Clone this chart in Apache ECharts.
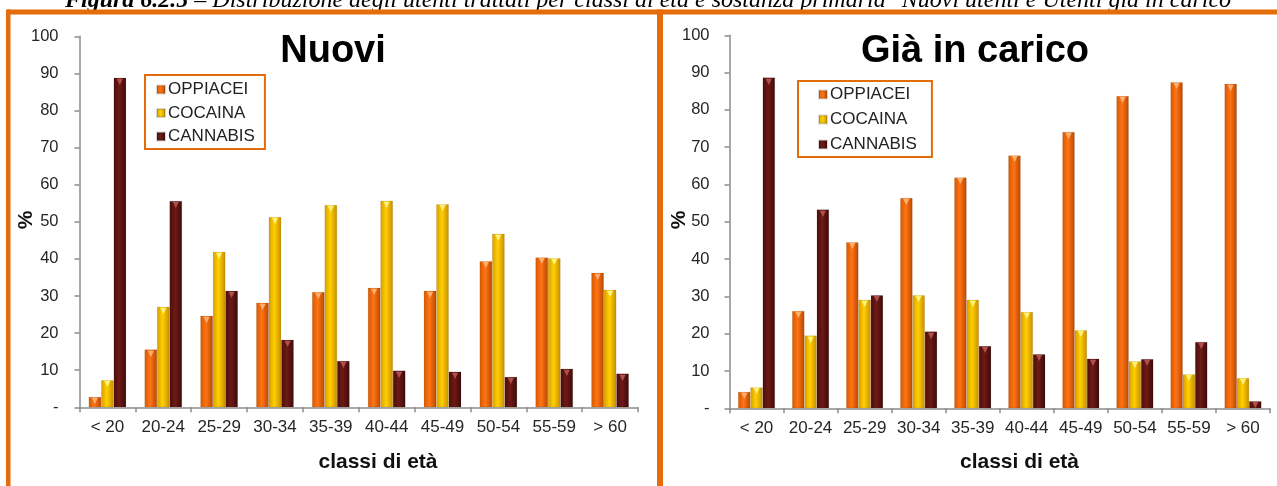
<!DOCTYPE html>
<html>
<head>
<meta charset="utf-8">
<script src="https://cdn.jsdelivr.net/npm/echarts@6/dist/echarts.min.js"></script>
<style>
html,body{margin:0;padding:0;background:#fff;}
#c{width:1277px;height:486px;}
</style>
</head>
<body>
<div id="c"></div>
<script>
const categories = ['< 20', '20-24', '25-29', '30-34', '35-39', '40-44', '45-49', '50-54', '55-59', '> 60'];
const seriesNames = ['OPPIACEI', 'COCAINA', 'CANNABIS'];
const nuoviOppiacei = [2.8, 15.6, 24.7, 28.2, 31.1, 32.2, 31.4, 39.4, 40.4, 36.3];
const nuoviCocaina = [7.3, 27.1, 41.9, 51.3, 54.5, 55.7, 54.7, 46.8, 40.2, 31.7];
const nuoviCannabis = [88.8, 55.6, 31.4, 18.2, 12.5, 9.9, 9.6, 8.2, 10.4, 9.1];
const caricoOppiacei = [4.4, 26.1, 44.5, 56.4, 61.9, 67.8, 74.1, 83.7, 87.4, 87.0];
const caricoCocaina = [5.6, 19.5, 29.1, 30.3, 29.1, 25.8, 20.9, 12.6, 9.1, 8.1];
const caricoCannabis = [88.7, 53.3, 30.3, 20.6, 16.7, 14.5, 13.3, 13.2, 17.8, 1.9];
const chartTitles = ['Nuovi', 'Già in carico'];
const xAxisTitle = 'classi di età';
const yAxisTitle = '%';
const figureLabel = 'Figura 6.2.5';
const figureCaption = ' – Distribuzione degli utenti trattati per classi di età e sostanza primaria "Nuovi utenti e Utenti già in carico';

const ORANGE = '#E46C0A';
const FONT = '"Liberation Sans", Arial, sans-serif';
const SERIF = '"Liberation Serif", "Times New Roman", serif';

function grad(c0, c1, c2) {
  return new echarts.graphic.LinearGradient(0, 0, 1, 0, [
    {offset: 0, color: c0}, {offset: 0.45, color: c1}, {offset: 1, color: c2}
  ]);
}
const barStyles = [
  {color: grad('#D65800', '#FF7414', '#B84800'), tri: '#FFB070'},
  {color: grad('#D89C00', '#FFD000', '#C88C00'), tri: '#FFF27A'},
  {color: grad('#4A0E0C', '#6E1A16', '#3C0A09'), tri: '#B0504C'}
];

const chart = echarts.init(document.getElementById('c'), null, {renderer: 'canvas'});

const grids = [
  {left: 79.5, top: 36.3, width: 558.5, height: 371},
  {left: 729.5, top: 35.3, width: 540.5, height: 373}
];

function xAxis(i) {
  return {
    type: 'category', gridIndex: i, data: categories,
    axisLine: {lineStyle: {color: '#8C8C8C', width: 1.5}},
    axisTick: {show: true, length: 5, lineStyle: {color: '#8C8C8C', width: 1.5}},
    axisLabel: {color: '#262626', fontSize: 17, fontFamily: FONT, margin: 12, interval: 0}
  };
}
function yAxis(i) {
  return {
    type: 'value', gridIndex: i, min: 0, max: 100, interval: 10,
    splitLine: {show: false},
    axisLine: {show: true, lineStyle: {color: '#8C8C8C', width: 1.5}},
    axisTick: {show: true, length: 5, lineStyle: {color: '#8C8C8C', width: 1.5}},
    axisLabel: {color: '#262626', fontSize: 16.5, fontFamily: FONT, margin: i === 0 ? 21 : 20,
      formatter: v => v === 0 ? '-' : String(v)}
  };
}

const dataSets = [
  [nuoviOppiacei, nuoviCocaina, nuoviCannabis],
  [caricoOppiacei, caricoCocaina, caricoCannabis]
];
const barWidths = [12.5, 12.3];
const series = [];
dataSets.forEach((set, gi) => {
  set.forEach((vals, si) => {
    series.push({
      name: seriesNames[si], type: 'bar', xAxisIndex: gi, yAxisIndex: gi,
      data: vals, barWidth: barWidths[gi], barGap: '0%',
      itemStyle: {color: barStyles[si].color, borderColor: 'rgba(0,0,0,0.15)', borderWidth: 0.5},
      label: {show: true, position: 'insideTop', distance: 0, formatter: '▼',
        fontSize: 8, color: barStyles[si].tri, fontFamily: 'DejaVu Sans'},
      emphasis: {disabled: true}, animation: false
    });
  });
});

function legend(left, top, itemGap, padding) {
  return {
    data: seriesNames, orient: 'vertical', left: left, top: top,
    icon: 'rect', itemWidth: 8, itemHeight: 8, itemGap: itemGap,
    borderColor: ORANGE, borderWidth: 2, padding: padding,
    backgroundColor: '#fff',
    textStyle: {fontSize: 17, color: '#222', fontFamily: FONT, lineHeight: 17, padding: [0, 0, 0, -2]},
    selectedMode: false
  };
}

const option = {
  backgroundColor: '#fff',
  animation: false,
  grid: grids,
  xAxis: [xAxis(0), xAxis(1)],
  yAxis: [yAxis(0), yAxis(1)],
  legend: [
    legend(145, 75, 6.5, [6, 10, 4, 11]),
    legend(798, 81, 8, [5, 15, 4, 20])
  ],
  series: series,
  graphic: [
    // caption (cut at top)
    {type: 'text', x: 65, y: -12.5, silent: true,
      style: {text: '{b|' + figureLabel + '}{n|' + figureCaption + '}',
        textVerticalAlign: 'top', fill: '#000',
        rich: {
          b: {fontWeight: 'bold', fontStyle: 'italic', fontSize: 24, fontFamily: SERIF, lineHeight: 26, fill: '#000'},
          n: {fontWeight: 'normal', fontStyle: 'italic', fontSize: 24, fontFamily: SERIF, lineHeight: 26, fill: '#000'}
        }}},
    // panel borders
    {type: 'rect', shape: {x: 7, y: 9.5, width: 1270, height: 5}, style: {fill: ORANGE}, silent: true},
    {type: 'rect', shape: {x: 6, y: 9.5, width: 4.5, height: 480}, style: {fill: ORANGE}, silent: true},
    {type: 'rect', shape: {x: 657, y: 9.5, width: 6, height: 480}, style: {fill: ORANGE}, silent: true},
    // chart titles
    {type: 'text', x: 333, y: 52, silent: true,
      style: {text: chartTitles[0], font: 'bold 38px ' + FONT, fill: '#000', textAlign: 'center', textVerticalAlign: 'middle'}},
    {type: 'text', x: 975, y: 52, silent: true,
      style: {text: chartTitles[1], font: 'bold 38px ' + FONT, fill: '#000', textAlign: 'center', textVerticalAlign: 'middle'}},
    // x axis titles
    {type: 'text', x: 378, y: 462, silent: true,
      style: {text: xAxisTitle, font: 'bold 21px ' + FONT, fill: '#111', textAlign: 'center', textVerticalAlign: 'middle'}},
    {type: 'text', x: 1019.5, y: 462, silent: true,
      style: {text: xAxisTitle, font: 'bold 21px ' + FONT, fill: '#111', textAlign: 'center', textVerticalAlign: 'middle'}},
    // y axis titles
    {type: 'text', x: 26, y: 220, rotation: Math.PI / 2, silent: true,
      style: {text: yAxisTitle, font: 'bold 21px ' + FONT, fill: '#111', textAlign: 'center', textVerticalAlign: 'middle'}},
    {type: 'text', x: 679, y: 220, rotation: Math.PI / 2, silent: true,
      style: {text: yAxisTitle, font: 'bold 21px ' + FONT, fill: '#111', textAlign: 'center', textVerticalAlign: 'middle'}}
  ]
};
chart.setOption(option);
</script>
</body>
</html>
